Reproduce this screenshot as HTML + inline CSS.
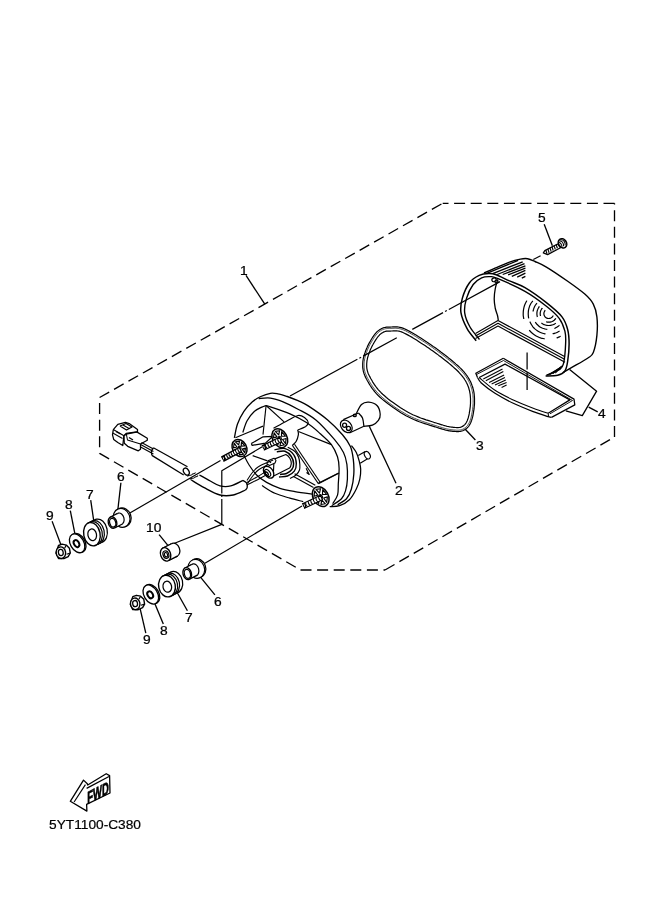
<!DOCTYPE html>
<html><head><meta charset="utf-8"><style>
html,body{margin:0;padding:0;background:#fff;width:661px;height:913px;overflow:hidden}
svg{display:block;will-change:transform}
text{font-family:"Liberation Sans",sans-serif;fill:#000}
</style></head><body>
<svg width="661" height="913" viewBox="0 0 661 913">
<g fill="none" stroke="#000" stroke-linecap="butt" stroke-linejoin="round">
<path d="M614.5,203.3 L442.7,203.3" stroke-width="1.32" stroke-dasharray="11 5.6" stroke-dashoffset="0"/>
<path d="M99.6,397.5 L442.7,203.3" stroke-width="1.32" stroke-dasharray="11 5.6" stroke-dashoffset="0"/>
<path d="M99.6,397.5 L99.6,453.4" stroke-width="1.32" stroke-dasharray="11 5.6" stroke-dashoffset="11"/>
<path d="M99.6,453.4 L300.5,570.0" stroke-width="1.32" stroke-dasharray="11 5.6" stroke-dashoffset="0"/>
<path d="M300.5,570.0 L385.0,570.0" stroke-width="1.32" stroke-dasharray="11 5.6" stroke-dashoffset="0"/>
<path d="M385.0,570.0 L614.5,437.0" stroke-width="1.32" stroke-dasharray="11 5.6" stroke-dashoffset="0"/>
<path d="M614.5,437.0 L614.5,203.3" stroke-width="1.32" stroke-dasharray="11 5.6" stroke-dashoffset="0"/>
<path d="M246.0,275.4 L264.8,304.2" stroke-width="1.32"/>
<path d="M544.2,224.2 L552.4,245.7" stroke-width="1.32"/>
<path d="M465.0,429.0 L475.4,440.0" stroke-width="1.32"/>
<path d="M52.1,521.3 L61.2,545.5" stroke-width="1.32"/>
<path d="M70.3,510.7 L75.1,534.9" stroke-width="1.32"/>
<path d="M90.7,500.1 L93.7,520.5" stroke-width="1.32"/>
<path d="M120.9,482.7 L117.9,509.2" stroke-width="1.32"/>
<path d="M159.1,534.6 L168.3,545.8" stroke-width="1.32"/>
<path d="M214.9,594.9 L200.7,577.4" stroke-width="1.32"/>
<path d="M187.4,610.7 L176.6,591.5" stroke-width="1.32"/>
<path d="M163.3,624.0 L155.0,604.0" stroke-width="1.32"/>
<path d="M145.8,633.1 L140.0,608.2" stroke-width="1.32"/>
<path d="M369.3,426.3 L396.0,483.2" stroke-width="1.32"/>
<path d="M588.7,407.1 L597.7,411.9" stroke-width="1.32"/>
<path d="M569.6,369.5 L596.6,391.2 L582.3,415.6 L565.9,410.8" stroke-width="1.32"/>
<path d="M390.3,327.1 L391.1,327.0 L391.9,327.0 L392.8,326.9 L393.8,326.9 L394.8,326.8 L396.0,326.8 L397.2,326.9 L398.4,327.0 L399.8,327.3 L401.3,327.6 L402.8,328.1 L404.4,328.8 L406.2,329.6 L408.0,330.5 L410.0,331.6 L412.1,332.7 L414.2,334.0 L416.4,335.3 L418.6,336.7 L420.8,338.1 L423.0,339.5 L425.2,340.9 L427.2,342.3 L429.3,343.7 L431.2,345.0 L433.2,346.4 L435.3,347.8 L437.3,349.3 L439.3,350.7 L441.2,352.2 L443.2,353.7 L445.0,355.1 L446.9,356.5 L448.6,357.9 L450.3,359.2 L451.8,360.5 L453.3,361.8 L454.7,362.9 L456.0,364.1 L457.3,365.2 L458.5,366.3 L459.6,367.4 L460.7,368.4 L461.8,369.5 L462.8,370.6 L463.8,371.7 L464.7,372.8 L465.6,373.9 L466.4,375.0 L467.3,376.2 L468.0,377.3 L468.7,378.4 L469.4,379.6 L470.0,380.7 L470.6,381.8 L471.1,383.0 L471.6,384.2 L472.0,385.4 L472.5,386.6 L472.8,387.8 L473.2,389.1 L473.5,390.4 L473.8,391.6 L474.0,392.9 L474.2,394.2 L474.3,395.6 L474.4,396.9 L474.5,398.2 L474.5,399.6 L474.5,400.9 L474.5,402.3 L474.5,403.7 L474.4,405.1 L474.2,406.7 L474.1,408.2 L473.9,409.8 L473.6,411.4 L473.4,413.0 L473.1,414.6 L472.8,416.2 L472.4,417.7 L472.0,419.1 L471.6,420.4 L471.2,421.6 L470.7,422.7 L470.2,423.7 L469.7,424.6 L469.2,425.5 L468.6,426.3 L467.9,427.1 L467.3,427.7 L466.6,428.4 L465.9,428.9 L465.2,429.4 L464.4,429.9 L463.6,430.3 L462.8,430.7 L461.9,431.0 L461.1,431.2 L460.2,431.4 L459.3,431.5 L458.4,431.6 L457.5,431.6 L456.6,431.6 L455.7,431.5 L454.7,431.4 L453.8,431.4 L452.8,431.3 L451.9,431.2 L451.0,431.1 L450.1,430.9 L449.1,430.8 L448.2,430.6 L447.2,430.4 L446.1,430.2 L445.0,429.9 L443.7,429.5 L442.3,429.1 L440.8,428.6 L439.0,428.1 L437.1,427.5 L435.0,426.8 L432.7,426.1 L430.2,425.4 L427.6,424.5 L424.8,423.6 L422.1,422.7 L419.3,421.7 L416.5,420.6 L413.8,419.5 L411.1,418.3 L408.6,417.0 L406.0,415.7 L403.5,414.2 L400.9,412.7 L398.3,411.0 L395.8,409.3 L393.2,407.6 L390.8,405.8 L388.4,404.1 L386.1,402.3 L383.9,400.6 L381.9,398.9 L380.0,397.2 L378.2,395.5 L376.6,393.8 L375.1,392.1 L373.8,390.5 L372.5,388.8 L371.3,387.1 L370.2,385.5 L369.2,383.9 L368.3,382.3 L367.4,380.8 L366.6,379.3 L365.9,377.9 L365.2,376.6 L364.7,375.3 L364.2,374.0 L363.8,372.8 L363.4,371.6 L363.2,370.5 L363.0,369.3 L362.8,368.2 L362.7,367.1 L362.7,365.9 L362.7,364.8 L362.7,363.6 L362.8,362.4 L362.9,361.1 L363.1,359.8 L363.3,358.5 L363.6,357.3 L364.0,356.0 L364.3,354.7 L364.7,353.5 L365.2,352.2 L365.6,351.0 L366.1,349.8 L366.6,348.6 L367.1,347.4 L367.6,346.1 L368.3,344.9 L368.9,343.6 L369.6,342.4 L370.3,341.2 L371.0,340.0 L371.7,338.8 L372.4,337.7 L373.1,336.7 L373.7,335.7 L374.4,334.8 L375.0,334.0 L375.6,333.3 L376.2,332.6 L376.8,332.0 L377.4,331.4 L378.0,330.9 L378.7,330.4 L379.3,330.0 L379.9,329.6 L380.5,329.2 L381.1,328.9 L381.8,328.5 L382.4,328.2 L383.1,328.0 L383.7,327.7 L384.4,327.5 L385.1,327.4 L385.7,327.3 L386.4,327.2 L387.1,327.1 L387.9,327.1 L388.6,327.1 L389.4,327.0 Z" stroke-width="1.21"/>
<path d="M390.3,328.5 L391.1,328.4 L392.0,328.4 L392.9,328.3 L393.9,328.3 L394.9,328.2 L395.9,328.2 L397.0,328.3 L398.2,328.4 L399.5,328.7 L400.9,329.0 L402.3,329.5 L403.9,330.1 L405.6,330.8 L407.4,331.8 L409.3,332.8 L411.4,334.0 L413.5,335.2 L415.6,336.5 L417.8,337.9 L420.0,339.3 L422.2,340.7 L424.4,342.1 L426.5,343.5 L428.5,344.8 L430.4,346.2 L432.4,347.5 L434.4,349.0 L436.4,350.4 L438.4,351.9 L440.4,353.3 L442.3,354.8 L444.2,356.2 L446.0,357.6 L447.7,359.0 L449.4,360.3 L450.9,361.6 L452.4,362.8 L453.8,364.0 L455.1,365.1 L456.3,366.2 L457.5,367.3 L458.7,368.4 L459.7,369.4 L460.8,370.5 L461.8,371.5 L462.7,372.6 L463.6,373.6 L464.5,374.7 L465.3,375.8 L466.1,376.9 L466.8,378.0 L467.5,379.1 L468.2,380.2 L468.7,381.3 L469.3,382.4 L469.8,383.6 L470.3,384.7 L470.7,385.9 L471.1,387.0 L471.5,388.2 L471.8,389.4 L472.1,390.7 L472.4,391.9 L472.6,393.1 L472.8,394.4 L472.9,395.7 L473.0,397.0 L473.1,398.3 L473.1,399.6 L473.1,400.9 L473.1,402.3 L473.1,403.6 L473.0,405.0 L472.9,406.5 L472.7,408.1 L472.5,409.6 L472.3,411.2 L472.0,412.8 L471.7,414.4 L471.4,415.9 L471.1,417.3 L470.7,418.7 L470.3,419.9 L469.9,421.1 L469.5,422.1 L469.0,423.0 L468.5,423.9 L468.0,424.7 L467.5,425.5 L466.9,426.1 L466.3,426.7 L465.7,427.3 L465.1,427.8 L464.4,428.3 L463.7,428.7 L463.0,429.1 L462.3,429.4 L461.5,429.7 L460.8,429.9 L460.0,430.0 L459.2,430.1 L458.3,430.2 L457.5,430.2 L456.6,430.2 L455.8,430.1 L454.9,430.0 L453.9,430.0 L453.0,429.9 L452.0,429.8 L451.1,429.7 L450.3,429.5 L449.4,429.4 L448.5,429.2 L447.5,429.0 L446.5,428.8 L445.3,428.5 L444.1,428.2 L442.7,427.8 L441.2,427.3 L439.5,426.8 L437.5,426.2 L435.4,425.5 L433.1,424.8 L430.6,424.0 L428.0,423.2 L425.3,422.3 L422.6,421.4 L419.8,420.4 L417.0,419.3 L414.3,418.2 L411.7,417.0 L409.2,415.8 L406.7,414.5 L404.2,413.0 L401.6,411.5 L399.1,409.9 L396.5,408.2 L394.0,406.5 L391.6,404.7 L389.2,403.0 L386.9,401.2 L384.8,399.5 L382.8,397.8 L380.9,396.2 L379.2,394.5 L377.7,392.9 L376.2,391.2 L374.9,389.6 L373.6,387.9 L372.5,386.3 L371.4,384.7 L370.4,383.1 L369.5,381.6 L368.7,380.1 L367.9,378.7 L367.2,377.3 L366.5,376.0 L366.0,374.7 L365.5,373.5 L365.1,372.4 L364.8,371.3 L364.5,370.2 L364.3,369.1 L364.2,368.1 L364.1,367.0 L364.1,365.9 L364.1,364.8 L364.1,363.7 L364.2,362.5 L364.3,361.3 L364.5,360.0 L364.7,358.8 L365.0,357.6 L365.3,356.4 L365.7,355.1 L366.1,353.9 L366.5,352.7 L366.9,351.5 L367.4,350.3 L367.8,349.1 L368.4,347.9 L368.9,346.7 L369.5,345.5 L370.1,344.3 L370.8,343.1 L371.5,341.9 L372.2,340.7 L372.9,339.6 L373.6,338.5 L374.2,337.5 L374.9,336.5 L375.5,335.7 L376.1,334.9 L376.7,334.2 L377.3,333.6 L377.8,333.0 L378.4,332.5 L378.9,332.0 L379.5,331.5 L380.1,331.1 L380.6,330.8 L381.2,330.4 L381.8,330.1 L382.4,329.8 L383.0,329.5 L383.6,329.3 L384.2,329.1 L384.8,328.9 L385.3,328.8 L385.9,328.6 L386.6,328.6 L387.2,328.5 L387.9,328.5 L388.6,328.5 L389.4,328.4 Z" stroke-width="0.69"/>
<path d="M390.3,331.1 L391.2,331.0 L392.1,331.0 L393.1,330.9 L394.0,330.9 L394.9,330.8 L395.9,330.8 L396.8,330.9 L397.9,331.0 L399.0,331.2 L400.2,331.5 L401.5,331.9 L402.9,332.5 L404.4,333.2 L406.2,334.1 L408.1,335.1 L410.1,336.2 L412.2,337.4 L414.3,338.7 L416.5,340.1 L418.6,341.5 L420.8,342.9 L422.9,344.3 L425.0,345.6 L427.0,347.0 L429.0,348.3 L430.9,349.7 L432.9,351.1 L434.9,352.5 L436.9,353.9 L438.8,355.4 L440.7,356.8 L442.6,358.3 L444.4,359.7 L446.1,361.0 L447.7,362.3 L449.3,363.6 L450.7,364.8 L452.1,366.0 L453.4,367.1 L454.6,368.2 L455.8,369.2 L456.9,370.3 L457.9,371.3 L458.9,372.3 L459.8,373.3 L460.7,374.3 L461.6,375.3 L462.4,376.3 L463.2,377.4 L464.0,378.4 L464.6,379.5 L465.3,380.5 L465.9,381.5 L466.4,382.5 L467.0,383.6 L467.4,384.6 L467.9,385.7 L468.3,386.7 L468.7,387.8 L469.0,389.0 L469.3,390.1 L469.6,391.2 L469.8,392.4 L470.0,393.5 L470.2,394.7 L470.3,395.9 L470.4,397.2 L470.5,398.4 L470.5,399.6 L470.5,400.9 L470.5,402.2 L470.5,403.5 L470.4,404.9 L470.3,406.3 L470.1,407.8 L469.9,409.3 L469.7,410.8 L469.4,412.4 L469.2,413.9 L468.9,415.3 L468.5,416.7 L468.2,418.0 L467.8,419.1 L467.5,420.1 L467.1,421.0 L466.7,421.8 L466.3,422.6 L465.9,423.2 L465.4,423.8 L465.0,424.4 L464.5,424.9 L464.0,425.3 L463.5,425.7 L463.0,426.1 L462.4,426.4 L461.8,426.7 L461.3,427.0 L460.8,427.2 L460.2,427.3 L459.6,427.5 L458.9,427.5 L458.2,427.6 L457.5,427.6 L456.7,427.6 L455.9,427.5 L455.1,427.5 L454.2,427.4 L453.2,427.3 L452.3,427.2 L451.5,427.1 L450.6,427.0 L449.8,426.8 L449.0,426.7 L448.1,426.5 L447.1,426.3 L446.0,426.0 L444.8,425.7 L443.5,425.3 L442.0,424.8 L440.3,424.3 L438.3,423.7 L436.2,423.0 L433.8,422.3 L431.4,421.5 L428.8,420.7 L426.1,419.9 L423.4,418.9 L420.7,418.0 L418.0,416.9 L415.4,415.8 L412.8,414.7 L410.4,413.5 L408.0,412.2 L405.5,410.8 L403.0,409.3 L400.5,407.7 L398.0,406.0 L395.5,404.3 L393.1,402.6 L390.8,400.9 L388.5,399.2 L386.4,397.5 L384.5,395.8 L382.7,394.2 L381.1,392.7 L379.6,391.1 L378.2,389.6 L376.9,388.0 L375.7,386.4 L374.6,384.8 L373.6,383.3 L372.6,381.8 L371.8,380.3 L370.9,378.8 L370.2,377.4 L369.5,376.1 L368.9,374.9 L368.3,373.7 L367.9,372.6 L367.6,371.6 L367.3,370.6 L367.1,369.7 L366.9,368.8 L366.8,367.8 L366.7,366.9 L366.7,365.9 L366.7,364.8 L366.7,363.8 L366.8,362.7 L366.9,361.6 L367.0,360.5 L367.3,359.4 L367.5,358.2 L367.8,357.0 L368.2,355.9 L368.5,354.7 L368.9,353.6 L369.4,352.4 L369.8,351.2 L370.2,350.1 L370.7,349.0 L371.3,347.8 L371.8,346.7 L372.4,345.5 L373.1,344.3 L373.7,343.2 L374.4,342.0 L375.1,340.9 L375.7,339.9 L376.4,338.9 L377.0,338.0 L377.6,337.2 L378.1,336.5 L378.7,335.9 L379.2,335.3 L379.6,334.8 L380.1,334.4 L380.6,334.0 L381.1,333.6 L381.5,333.3 L382.0,333.0 L382.5,332.7 L383.0,332.4 L383.5,332.1 L384.0,331.9 L384.5,331.7 L385.0,331.5 L385.4,331.4 L385.9,331.3 L386.3,331.2 L386.8,331.1 L387.4,331.1 L388.0,331.1 L388.7,331.1 L389.4,331.0 Z" stroke-width="1.21"/>
<path d="M484.0,273.0 C485.8,272.2 490.8,270.0 495.0,268.2 C499.2,266.4 505.3,263.6 509.5,262.1 C513.7,260.6 517.4,259.7 520.4,259.1 C523.4,258.5 525.2,258.3 527.6,258.7 C530.0,259.1 531.9,260.1 535.0,261.5 C538.1,262.9 540.9,263.8 546.4,267.1 C551.9,270.4 561.3,276.8 567.7,281.3 C574.1,285.8 580.5,290.3 584.8,294.1 C589.1,297.9 591.3,300.3 593.3,304.1 C595.3,307.9 596.3,311.7 596.9,316.9 C597.5,322.1 597.5,329.5 596.9,335.4 C596.3,341.3 594.8,348.7 593.3,352.5 C591.8,356.3 591.4,355.6 587.6,358.2 C583.8,360.8 574.6,365.8 570.6,368.2 C566.6,370.6 564.6,371.7 563.4,372.4" stroke-width="1.38"/>
<path d="M476.2,340.8 C474.7,338.8 469.6,333.4 467.1,328.7 C464.6,324.0 461.8,317.9 461.0,312.9 C460.2,307.8 460.9,303.4 462.3,298.4 C463.7,293.4 466.7,286.5 469.5,282.7 C472.3,278.9 476.0,276.9 479.2,275.4 C482.4,273.9 486.1,273.7 488.9,273.6 C491.7,273.5 492.8,273.6 496.2,274.8 C499.6,276.0 504.7,278.8 509.5,280.9 C514.3,283.0 518.9,284.1 525.0,287.7 C531.1,291.3 540.2,297.8 546.4,302.7 C552.6,307.6 558.5,312.4 562.0,316.9 C565.5,321.4 566.5,325.2 567.7,329.7 C568.9,334.2 569.1,338.8 569.1,344.0 C569.1,349.2 568.4,356.5 567.7,361.0 C567.0,365.5 566.6,368.6 564.9,371.0 C563.2,373.4 560.9,374.5 557.7,375.3 C554.5,376.1 547.6,375.9 545.6,376.0" stroke-width="1.49"/>
<path d="M479.5,339.5 C477.9,337.4 472.5,331.4 470.0,327.0 C467.5,322.6 465.3,317.7 464.7,312.9 C464.1,308.1 465.1,303.1 466.5,298.4 C467.9,293.7 470.7,287.9 473.2,284.5 C475.7,281.1 478.8,279.1 481.6,277.8 C484.4,276.5 487.5,276.5 490.1,276.6 C492.7,276.7 491.6,275.9 497.4,278.4 C503.2,280.8 516.8,286.7 525.0,291.3 C533.2,295.9 540.7,301.7 546.4,306.2 C552.1,310.7 556.1,314.1 559.2,318.3 C562.3,322.5 563.8,326.9 564.9,331.2 C566.0,335.5 565.9,338.6 565.6,344.0 C565.4,349.4 564.5,359.6 563.4,363.9 C562.3,368.2 562.0,367.7 559.2,369.6 C556.4,371.5 548.5,374.4 546.4,375.3" stroke-width="1.38"/>
<path d="M497.6,279.5 C497.2,281.1 495.8,285.8 495.2,289.0 C494.6,292.2 494.2,295.8 494.2,299.0 C494.2,302.2 494.8,305.8 495.3,308.5 C495.9,311.2 497.0,313.5 497.5,315.5 C498.0,317.5 498.2,319.6 498.3,320.4" stroke-width="1.32"/>
<path d="M475.5,333.5 L498.0,320.5 L565.0,356.7" stroke-width="1.15"/>
<path d="M475.5,336.0 L498.0,323.3 L565.0,359.5" stroke-width="1.15"/>
<path d="M475.5,338.5 L498.0,326.1 L565.0,362.3" stroke-width="1.15"/>
<path d="M487.3,273.2 L518.1,260.4" stroke-width="1.32"/>
<path d="M492.7,273.6 L522.7,261.8" stroke-width="1.32"/>
<path d="M497.2,274.5 L524.5,263.6" stroke-width="1.32"/>
<path d="M502.7,274.5 L525.4,265.9" stroke-width="1.32"/>
<path d="M508.1,274.8 L525.4,268.2" stroke-width="1.32"/>
<path d="M511.8,276.3 L525.4,270.4" stroke-width="1.32"/>
<path d="M517.2,277.2 L525.4,273.2" stroke-width="1.32"/>
<path d="M521.8,278.1 L525.4,276.3" stroke-width="1.32"/>
<ellipse cx="494.0" cy="279.8" rx="2.2" ry="1.8" transform="rotate(-20.0 494.0 279.8)" stroke-width="1.15" fill="none"/>
<ellipse cx="496.5" cy="281.5" rx="1.6" ry="1.4" transform="rotate(-20.0 496.5 281.5)" stroke-width="1.15" fill="none"/>
<path d="M553.1,315.6 C553.1,315.7 552.9,316.0 552.8,316.2 C552.7,316.4 552.6,316.6 552.4,316.7 C552.3,316.9 552.1,317.1 552.0,317.2 C551.8,317.4 551.6,317.5 551.4,317.6 C551.2,317.8 551.1,317.9 550.8,318.0 C550.6,318.1 550.4,318.2 550.2,318.3 C550.0,318.3 549.8,318.4 549.6,318.4 C549.3,318.5 549.1,318.5 548.9,318.5 C548.7,318.5 548.4,318.5 548.2,318.5 C548.0,318.5 547.8,318.4 547.6,318.4 C547.3,318.3 547.1,318.2 546.9,318.2 C546.7,318.1 546.5,318.0 546.3,317.9 C546.1,317.7 545.9,317.6 545.7,317.5 C545.6,317.3 545.4,317.2 545.2,317.0 C545.1,316.9 544.9,316.7 544.8,316.5 C544.7,316.3 544.6,316.1 544.5,315.9 C544.3,315.7 544.3,315.5 544.2,315.3 C544.1,315.1 544.0,314.9 544.0,314.7 C544.0,314.4 543.9,314.2 543.9,314.0 C543.9,313.8 543.9,313.5 543.9,313.3 C543.9,313.1 544.0,312.9 544.0,312.6 C544.1,312.4 544.1,312.2 544.2,312.0 C544.3,311.8 544.4,311.6 544.5,311.4 C544.6,311.2 544.7,311.0 544.9,310.8 C545.0,310.6 545.2,310.4 545.3,310.3" stroke-width="1.21"/>
<path d="M540.5,316.0 C540.5,315.8 540.3,315.2 540.3,314.8 C540.2,314.4 540.2,314.0 540.2,313.6 C540.2,313.2 540.2,312.8 540.3,312.4 C540.4,312.0 540.5,311.6 540.6,311.2 C540.7,310.8 540.8,310.4 541.0,310.1 C541.2,309.7 541.4,309.3 541.6,309.0 C541.9,308.6 542.3,308.2 542.4,308.0" stroke-width="1.21"/>
<path d="M555.8,318.3 C555.7,318.5 555.4,319.0 555.1,319.3 C554.8,319.6 554.5,319.9 554.2,320.2 C553.9,320.4 553.6,320.7 553.2,320.9 C552.9,321.1 552.5,321.3 552.1,321.5 C551.7,321.6 551.3,321.8 550.9,321.9 C550.6,322.0 550.1,322.1 549.7,322.1 C549.3,322.2 548.9,322.2 548.5,322.2 C548.1,322.2 547.7,322.1 547.3,322.1 C546.9,322.0 546.3,321.8 546.1,321.8" stroke-width="1.21"/>
<path d="M537.4,317.0 C537.3,316.7 537.1,315.7 537.0,315.1 C536.9,314.5 536.9,313.9 536.9,313.3 C536.9,312.7 537.0,312.1 537.1,311.4 C537.2,310.8 537.4,310.2 537.6,309.7 C537.8,309.1 538.1,308.5 538.4,308.0 C538.7,307.4 539.2,306.7 539.4,306.4" stroke-width="1.21"/>
<path d="M555.8,323.1 C555.6,323.3 554.9,323.8 554.4,324.1 C553.9,324.3 553.3,324.6 552.8,324.8 C552.3,325.0 551.7,325.1 551.2,325.2 C550.6,325.4 550.0,325.4 549.5,325.5 C548.9,325.5 548.3,325.5 547.7,325.5 C547.2,325.4 546.6,325.3 546.0,325.2 C545.5,325.1 544.9,324.9 544.4,324.7 C543.9,324.5 543.4,324.2 542.9,324.0 C542.4,323.7 541.7,323.2 541.4,323.0" stroke-width="1.21"/>
<path d="M533.1,311.5 C533.1,311.1 533.3,310.0 533.6,309.2 C533.8,308.5 534.1,307.7 534.4,307.0 C534.7,306.3 535.1,305.6 535.5,305.0 C536.0,304.3 536.7,303.4 537.0,303.1" stroke-width="1.21"/>
<path d="M547.3,329.4 C546.9,329.4 545.7,329.2 544.9,329.0 C544.1,328.8 543.4,328.6 542.6,328.3 C541.9,328.0 541.1,327.6 540.4,327.2 C539.8,326.7 539.1,326.3 538.5,325.7 C537.9,325.2 537.3,324.6 536.7,324.0 C536.2,323.4 535.5,322.4 535.3,322.1" stroke-width="1.21"/>
<path d="M559.5,325.3 C559.3,325.4 558.7,325.9 558.3,326.2 C557.9,326.5 557.5,326.8 557.1,327.1 C556.6,327.4 556.2,327.6 555.7,327.8 C555.3,328.1 554.6,328.3 554.4,328.5" stroke-width="1.21"/>
<path d="M528.7,318.3 C528.6,317.8 528.3,316.3 528.3,315.2 C528.2,314.2 528.2,313.2 528.3,312.2 C528.3,311.1 528.5,310.1 528.7,309.1 C529.0,308.1 529.3,307.1 529.6,306.1 C530.0,305.2 530.5,304.2 531.0,303.3 C531.5,302.5 532.5,301.2 532.8,300.8" stroke-width="1.21"/>
<path d="M545.5,333.9 C545.0,333.8 543.5,333.6 542.6,333.3 C541.7,333.0 540.7,332.6 539.9,332.2 C539.0,331.8 538.1,331.3 537.3,330.7 C536.5,330.2 535.7,329.6 534.9,328.9 C534.2,328.2 533.5,327.5 532.9,326.8 C532.3,326.0 531.7,325.2 531.2,324.3 C530.7,323.5 530.1,322.1 529.8,321.7" stroke-width="1.21"/>
<path d="M559.6,331.1 C559.3,331.2 558.5,331.7 557.9,332.0 C557.4,332.3 556.8,332.5 556.2,332.8 C555.6,333.0 555.0,333.2 554.4,333.4 C553.8,333.6 552.9,333.7 552.6,333.8" stroke-width="1.21"/>
<path d="M523.8,319.0 C523.7,318.4 523.3,316.5 523.2,315.2 C523.2,313.9 523.2,312.7 523.3,311.4 C523.4,310.1 523.6,308.9 523.9,307.6 C524.2,306.4 524.6,305.2 525.1,304.0 C525.6,302.8 526.6,301.1 526.8,300.6" stroke-width="1.21"/>
<path d="M544.7,338.9 C544.1,338.7 542.3,338.4 541.2,338.1 C540.0,337.7 538.9,337.3 537.8,336.7 C536.7,336.2 535.6,335.6 534.6,334.9 C533.6,334.3 532.6,333.5 531.7,332.7 C530.8,331.9 529.6,330.5 529.2,330.1" stroke-width="1.21"/>
<path d="M560.7,336.2 C560.5,336.3 560.0,336.6 559.7,336.7 C559.3,336.9 559.0,337.0 558.7,337.2 C558.3,337.3 558.0,337.5 557.6,337.6 C557.3,337.7 556.8,337.9 556.6,338.0" stroke-width="1.21"/>
<path d="M547.5,375.2 L559.0,368.5" stroke-width="1.03"/>
<path d="M550.1,374.5 L560.0,367.6" stroke-width="1.03"/>
<path d="M552.7,373.8 L561.0,366.7" stroke-width="1.03"/>
<path d="M555.3,373.1 L562.0,365.8" stroke-width="1.03"/>
<path d="M503.3,358.3 L574.0,399.1 L574.8,404.9 L551.5,417.4" stroke-width="1.26"/>
<path d="M477.5,377.5 C478.2,378.5 478.7,380.7 481.6,383.3 C484.5,385.9 489.7,390.0 495.0,393.3 C500.3,396.6 506.9,400.2 513.3,403.3 C519.7,406.4 527.4,409.4 533.2,411.6 C539.0,413.8 545.2,415.6 548.2,416.6 C551.2,417.6 551.0,417.3 551.5,417.4" stroke-width="1.26"/>
<path d="M503.3,358.3 L475.8,373.3 L477.5,377.5" stroke-width="1.26"/>
<path d="M479.2,377.5 L505.0,364.1 L569.9,399.9 L548.2,413.2" stroke-width="1.26"/>
<path d="M476.5,374.5 L503.5,360.5 L572.5,400.5 L550.0,413.8" stroke-width="0.92"/>
<path d="M479.2,377.5 C481.8,379.6 489.3,386.6 495.0,390.3 C500.7,394.1 506.9,397.0 513.3,400.0 C519.7,403.0 527.4,406.0 533.2,408.2 C539.0,410.4 545.7,412.4 548.2,413.2" stroke-width="1.03"/>
<path d="M548.2,413.2 L548.5,416.6" stroke-width="1.03"/>
<path d="M483.3,379.1 L502.5,369.1" stroke-width="1.09"/>
<path d="M485.8,380.8 L503.3,371.6" stroke-width="1.09"/>
<path d="M489.1,382.5 L504.1,375.0" stroke-width="1.09"/>
<path d="M491.6,384.1 L504.9,377.5" stroke-width="1.09"/>
<path d="M495.0,385.0 L505.8,380.0" stroke-width="1.09"/>
<path d="M498.3,385.8 L506.6,382.5" stroke-width="1.09"/>
<path d="M501.6,387.4 L506.6,385.0" stroke-width="1.09"/>
<path d="M527.1,352.5 L527.1,369.5" stroke-width="1.26"/>
<path d="M527.1,372.5 L527.1,390.0" stroke-width="1.26"/>
<path d="M543.3,252.9 L544.8,250.6 L557.6,244.0 L560.5,247.8 L547.6,254.6 Z" stroke-width="1.2" fill="#fff"/>
<path d="M545.7,250.0 L547.0,253.8" stroke-width="1.15"/>
<path d="M547.8,248.9 L549.1,252.7" stroke-width="1.15"/>
<path d="M549.9,247.8 L551.2,251.6" stroke-width="1.15"/>
<path d="M552.0,246.7 L553.2,250.5" stroke-width="1.15"/>
<path d="M554.0,245.6 L555.3,249.4" stroke-width="1.15"/>
<path d="M556.1,244.5 L557.4,248.3" stroke-width="1.15"/>
<ellipse cx="562.5" cy="243.3" rx="3.9" ry="4.9" transform="rotate(-35.0 562.5 243.3)" stroke-width="1.61" fill="#fff"/>
<path d="M560.2,239.9 C563.5,239 565.5,242 565.2,245.5" stroke-width="1.03"/>
<path d="M559.2,241 C562,240.5 563.8,243 563.6,246.3" stroke-width="1.03"/>
<path d="M558.5,242.6 C560.5,242.5 562,244.5 562,247.2" stroke-width="1.03"/>
<path d="M540.6,255.7 L533.3,259.5" stroke-width="1.15"/>
<path d="M356.0,414.2 C356.9,412.6 359.4,406.5 361.5,404.5 C363.6,402.5 366.1,401.9 368.7,402.1 C371.3,402.3 375.3,403.7 377.2,405.7 C379.1,407.7 380.0,411.8 380.2,414.2 C380.4,416.6 379.7,418.5 378.4,420.3 C377.1,422.1 374.8,424.1 372.4,425.1 C370.0,426.1 365.3,426.1 363.9,426.3" stroke-width="1.26"/>
<path d="M343.3,419.7 L358.4,413.0" stroke-width="1.26"/>
<path d="M349.4,433.0 L363.9,426.3" stroke-width="1.26"/>
<path d="M358.4,413.0 C359.1,413.8 361.6,415.8 362.5,418.0 C363.4,420.2 363.7,424.9 363.9,426.3" stroke-width="1.26"/>
<ellipse cx="346.3" cy="426.3" rx="5.0" ry="7.0" transform="rotate(-40.0 346.3 426.3)" stroke-width="1.26" fill="none"/>
<ellipse cx="344.6" cy="425.3" rx="2.0" ry="2.1" transform="rotate(0.0 344.6 425.3)" stroke-width="1.32" fill="none"/>
<ellipse cx="348.5" cy="428.4" rx="2.0" ry="2.1" transform="rotate(0.0 348.5 428.4)" stroke-width="1.32" fill="none"/>
<ellipse cx="354.8" cy="415.4" rx="1.4" ry="1.2" transform="rotate(0.0 354.8 415.4)" stroke-width="1.38" fill="none"/>
<path d="M290.0,396.0 L396.8,337.8" stroke-width="1.21" stroke-dasharray="91 2.3 2 2.3" stroke-dashoffset="14.3"/>
<path d="M412.3,329.4 L500.0,281.6" stroke-width="1.21" stroke-dasharray="91 2.3 2 2.3" stroke-dashoffset="153.6"/>
<path d="M129.0,513.4 L220.5,460.4" stroke-width="1.21"/>
<path d="M168.3,545.8 L221.8,524.4 L221.8,470.7 L262.2,446.8" stroke-width="1.21" stroke-dasharray="83 2 1.5 2 200 0"/>
<path d="M204.9,563.3 L302.0,506.0" stroke-width="1.21"/>
<path d="M318.2,483.3 L338.2,473.3" stroke-width="1.15"/>
<path d="M234.4,437.8 C234.9,435.5 235.9,428.4 237.5,424.0 C239.1,419.6 241.4,415.0 243.9,411.3 C246.4,407.6 249.6,404.3 252.4,401.8 C255.2,399.3 257.8,397.9 260.8,396.5 C263.8,395.1 267.6,393.8 270.4,393.3 C273.2,392.9 275.0,393.3 277.8,393.8 C280.6,394.3 283.9,395.4 287.3,396.5 C290.7,397.6 294.5,399.1 298.0,400.7 C301.5,402.3 303.2,402.7 308.2,405.9 C313.1,409.1 322.0,415.2 327.7,420.0 C333.4,424.8 338.7,430.4 342.5,434.8 C346.3,439.2 348.6,442.5 350.4,446.6 C352.2,450.7 352.7,454.8 353.3,459.4 C353.9,464.0 354.1,469.3 353.8,474.2 C353.5,479.1 352.6,484.9 351.4,489.0 C350.2,493.1 348.8,496.2 346.5,498.8 C344.2,501.4 339.1,503.7 337.6,504.7" stroke-width="1.32"/>
<path d="M258.7,398.6 C260.6,398.5 266.3,397.6 270.4,398.1 C274.5,398.6 278.5,400.0 283.1,401.8 C287.7,403.6 292.5,406.2 298.0,409.2 C303.5,412.2 309.8,414.9 315.9,420.0 C322.0,425.1 330.0,434.3 334.6,439.7 C339.2,445.1 341.4,448.4 343.5,452.5 C345.6,456.6 346.2,459.9 346.9,464.3 C347.5,468.7 347.6,474.7 347.4,479.1 C347.2,483.5 346.5,487.6 345.5,490.9 C344.5,494.2 343.8,496.3 341.5,498.8 C339.2,501.3 333.3,504.6 331.7,505.7" stroke-width="1.26"/>
<path d="M242.8,432.5 C243.5,430.6 245.2,424.3 247.1,420.8 C249.0,417.3 252.0,413.6 254.5,411.3 C257.0,409.0 260.0,408.1 261.9,407.1 C263.8,406.1 265.4,405.8 266.1,405.5" stroke-width="1.26"/>
<path d="M266.1,405.5 C270.1,406.9 283.2,410.9 290.0,413.8 C296.8,416.7 301.8,419.5 306.9,422.8 C311.9,426.1 316.2,430.1 320.3,433.7 C324.4,437.3 328.5,440.8 331.4,444.6 C334.3,448.5 336.2,452.9 337.5,456.8 C338.8,460.8 339.0,463.8 339.1,468.3 C339.2,472.8 338.6,479.3 338.3,483.7 C338.1,488.1 338.5,491.6 337.6,494.9 C336.7,498.2 333.5,502.2 332.7,503.7" stroke-width="1.26"/>
<path d="M351.4,445.6 C352.2,446.8 355.0,449.9 356.3,452.5 C357.6,455.1 358.6,458.6 359.3,461.4 C360.0,464.2 360.6,466.4 360.7,469.3 C360.8,472.2 360.5,475.8 359.8,479.1 C359.1,482.4 358.0,485.6 356.3,489.0 C354.6,492.4 352.2,497.0 349.4,499.8 C346.6,502.6 342.9,504.6 339.6,505.7 C336.3,506.8 331.4,506.5 329.7,506.7" stroke-width="1.26"/>
<path d="M266.1,405.5 L263.0,434.6" stroke-width="1.15"/>
<path d="M266.1,405.5 L284.1,421.9" stroke-width="1.15"/>
<path d="M235.4,437.8 L263.0,426.1" stroke-width="1.15"/>
<path d="M298.4,431.5 L331.4,444.6" stroke-width="1.15"/>
<path d="M318.4,483.7 L339.1,473.0" stroke-width="1.15"/>
<path d="M292.3,445.3 L318.4,483.7" stroke-width="1.15"/>
<path d="M294.5,444.3 L320.3,482.5" stroke-width="1.15"/>
<path d="M294.6,473.7 L315.3,485.2" stroke-width="1.15"/>
<path d="M293.5,476.5 L313.5,487.5" stroke-width="1.15"/>
<path d="M306.1,468.3 L309.2,474.5 L306.5,472.5" stroke-width="1.15"/>
<path d="M252.7,455.6 L267.5,460.9" stroke-width="1.15"/>
<path d="M244.1,455.8 C244.9,457.3 247.0,461.8 249.1,465.0 C251.2,468.2 253.7,472.1 256.6,475.0 C259.5,477.9 262.7,480.2 266.6,482.4 C270.5,484.6 275.2,486.8 279.9,488.3 C284.6,489.8 289.3,490.6 294.9,491.6 C300.4,492.6 310.1,493.7 313.2,494.1" stroke-width="1.21"/>
<path d="M262.0,485.5 C264.1,486.8 270.2,491.2 274.9,493.3 C279.5,495.4 285.2,496.8 289.9,498.2 C294.6,499.6 301.0,501.0 303.2,501.6" stroke-width="1.21"/>
<path d="M251.3,443.6 L263.1,436.8 L273.0,436.3 L265.4,443.1 L252.2,445.4 L251.3,443.6" stroke-width="1.21"/>
<path d="M273.5,428.2 C275.6,427.1 281.9,423.6 286.0,421.5 C290.1,419.4 294.8,416.1 298.0,415.5 C301.2,414.9 303.3,416.8 305.0,418.0 C306.7,419.2 308.1,421.4 308.2,422.8 C308.3,424.2 307.4,425.3 305.7,426.5 C303.9,427.7 299.0,429.4 297.7,430.0" stroke-width="1.21"/>
<path d="M297.7,430.0 C297.8,430.8 298.7,432.7 298.4,434.6 C298.1,436.5 297.1,439.7 296.1,441.5 C295.1,443.3 292.9,444.7 292.3,445.3" stroke-width="1.21"/>
<path d="M358.3,455.5 L365.2,451.5" stroke-width="1.15"/>
<path d="M360.2,463.3 L368.0,458.5" stroke-width="1.15"/>
<ellipse cx="367.3" cy="455.2" rx="2.6" ry="4.0" transform="rotate(-30.0 367.3 455.2)" stroke-width="1.15" fill="#fff"/>
<ellipse cx="239.5" cy="448.0" rx="9.0" ry="7.0" transform="rotate(61.0 239.5 448.0)" stroke-width="1.49" fill="#fff"/>
<path d="M240.4,451.1 L243.6,454.1 L239.4,454.9 Z" stroke-width="1.15"/>
<path d="M237.8,449.9 L237.5,454.0 L234.1,450.1 Z" stroke-width="1.15"/>
<path d="M236.8,446.9 L233.5,447.9 L234.2,443.2 Z" stroke-width="1.15"/>
<path d="M238.6,444.9 L235.4,441.9 L239.6,441.1 Z" stroke-width="1.15"/>
<path d="M241.2,446.1 L241.5,442.0 L244.9,445.9 Z" stroke-width="1.15"/>
<path d="M242.2,449.1 L245.5,448.1 L244.8,452.8 Z" stroke-width="1.15"/>
<ellipse cx="239.5" cy="448.0" rx="1.8" ry="1.4" transform="rotate(61.0 239.5 448.0)" stroke-width="1.15" fill="none"/>
<path d="M239.3,447.4 L221.6,456.9 A1.9,2.4 0 0 1 223.8,461.1 L241.5,451.6 Z" stroke-width="1.2" fill="#fff"/>
<path d="M237.5,448.3 Q237.7,451.0 239.8,452.6" stroke-width="1.09"/>
<path d="M235.3,449.5 Q235.4,452.2 237.6,453.8" stroke-width="1.09"/>
<path d="M233.1,450.7 Q233.2,453.3 235.3,454.9" stroke-width="1.09"/>
<path d="M230.9,451.9 Q231.0,454.5 233.1,456.1" stroke-width="1.09"/>
<path d="M228.6,453.1 Q228.8,455.7 230.9,457.3" stroke-width="1.09"/>
<path d="M226.4,454.3 Q226.6,456.9 228.7,458.5" stroke-width="1.09"/>
<path d="M224.2,455.5 Q224.4,458.1 226.5,459.7" stroke-width="1.09"/>
<path d="M222.0,456.6 Q222.2,459.3 224.3,460.9" stroke-width="1.09"/>
<ellipse cx="279.8" cy="438.2" rx="10.0" ry="7.2" transform="rotate(61.0 279.8 438.2)" stroke-width="1.49" fill="#fff"/>
<path d="M280.9,441.6 L284.3,445.0 L280.0,445.7 Z" stroke-width="1.15"/>
<path d="M278.1,440.2 L278.0,444.7 L274.2,440.3 Z" stroke-width="1.15"/>
<path d="M277.0,436.9 L273.5,437.9 L274.1,432.8 Z" stroke-width="1.15"/>
<path d="M278.7,434.8 L275.3,431.4 L279.6,430.7 Z" stroke-width="1.15"/>
<path d="M281.5,436.2 L281.6,431.7 L285.4,436.1 Z" stroke-width="1.15"/>
<path d="M282.6,439.5 L286.1,438.5 L285.5,443.6 Z" stroke-width="1.15"/>
<ellipse cx="279.8" cy="438.2" rx="2.0" ry="1.4" transform="rotate(61.0 279.8 438.2)" stroke-width="1.15" fill="none"/>
<path d="M279.5,437.3 L262.3,445.6 A1.9,2.4 0 0 1 264.3,450.0 L281.5,441.7 Z" stroke-width="1.2" fill="#fff"/>
<path d="M277.5,438.3 Q277.5,440.9 279.5,442.6" stroke-width="1.09"/>
<path d="M275.0,439.5 Q275.0,442.1 277.1,443.8" stroke-width="1.09"/>
<path d="M272.5,440.7 Q272.6,443.3 274.6,445.0" stroke-width="1.09"/>
<path d="M270.1,441.9 Q270.1,444.5 272.2,446.2" stroke-width="1.09"/>
<path d="M267.6,443.0 Q267.7,445.7 269.7,447.4" stroke-width="1.09"/>
<path d="M265.2,444.2 Q265.2,446.9 267.3,448.6" stroke-width="1.09"/>
<path d="M262.7,445.4 Q262.8,448.1 264.8,449.7" stroke-width="1.09"/>
<ellipse cx="320.7" cy="496.6" rx="10.5" ry="7.6" transform="rotate(61.0 320.7 496.6)" stroke-width="1.49" fill="#fff"/>
<path d="M321.9,500.1 L325.4,503.8 L320.9,504.5 Z" stroke-width="1.15"/>
<path d="M318.9,498.7 L318.7,503.5 L314.8,498.8 Z" stroke-width="1.15"/>
<path d="M317.7,495.2 L314.0,496.3 L314.7,490.9 Z" stroke-width="1.15"/>
<path d="M319.5,493.1 L316.0,489.4 L320.5,488.7 Z" stroke-width="1.15"/>
<path d="M322.5,494.5 L322.7,489.7 L326.6,494.4 Z" stroke-width="1.15"/>
<path d="M323.7,498.0 L327.4,496.9 L326.7,502.3 Z" stroke-width="1.15"/>
<ellipse cx="320.7" cy="496.6" rx="2.1" ry="1.5" transform="rotate(61.0 320.7 496.6)" stroke-width="1.15" fill="none"/>
<path d="M320.5,495.3 L302.5,503.8 A1.9,2.4 0 0 1 304.5,508.2 L322.5,499.7 Z" stroke-width="1.2" fill="#fff"/>
<path d="M318.4,496.3 Q318.4,499.0 320.4,500.7" stroke-width="1.09"/>
<path d="M315.8,497.5 Q315.8,500.2 317.8,501.9" stroke-width="1.09"/>
<path d="M313.2,498.8 Q313.2,501.4 315.3,503.1" stroke-width="1.09"/>
<path d="M310.6,500.0 Q310.7,502.6 312.7,504.3" stroke-width="1.09"/>
<path d="M308.1,501.2 Q308.1,503.8 310.1,505.5" stroke-width="1.09"/>
<path d="M305.5,502.4 Q305.5,505.0 307.5,506.7" stroke-width="1.09"/>
<path d="M302.9,503.6 Q303.0,506.3 305.0,508.0" stroke-width="1.09"/>
<path d="M276.8,451.8 C278.2,451.7 282.6,450.4 285.0,451.2 C287.4,452.0 289.9,454.4 291.3,456.5 C292.7,458.6 293.5,461.4 293.6,463.6 C293.7,465.8 293.0,467.9 291.8,469.5 C290.6,471.1 288.5,472.7 286.5,473.5 C284.5,474.3 281.1,474.3 280.0,474.5" stroke-width="1.49"/>
<path d="M274.5,449.8 C276.2,449.6 281.8,447.8 285.0,448.6 C288.2,449.4 291.9,452.3 293.8,454.8 C295.7,457.3 296.2,460.9 296.3,463.6 C296.4,466.3 295.8,469.1 294.3,471.2 C292.8,473.3 290.1,475.0 287.5,476.0 C284.9,477.0 280.4,476.8 279.0,477.0" stroke-width="1.38"/>
<path d="M287.7,447.3 C288.9,448.0 293.2,449.9 295.0,451.5 C296.8,453.1 297.8,455.1 298.6,457.2 C299.4,459.3 299.7,461.9 299.8,464.0 C299.9,466.1 300.1,468.2 299.5,470.0 C298.9,471.8 297.6,473.6 296.0,475.0 C294.4,476.4 291.0,477.9 290.0,478.5" stroke-width="1.15"/>
<path d="M274.1,459.1 L285.9,454.5 C289,456 291.5,460 291.3,463.6 C291,466 290.5,467 289.5,468.1 L273.2,476.3 Z" stroke-width="1.15" fill="#fff"/>
<ellipse cx="268.6" cy="472.2" rx="4.4" ry="6.6" transform="rotate(-35.0 268.6 472.2)" stroke-width="1.32" fill="#fff"/>
<ellipse cx="267.6" cy="473.0" rx="2.4" ry="4.0" transform="rotate(-35.0 267.6 473.0)" stroke-width="1.15" fill="none"/>
<ellipse cx="266.8" cy="473.8" rx="1.2" ry="2.0" transform="rotate(-35.0 266.8 473.8)" stroke-width="1.49" fill="none"/>
<path d="M266.8,463.8 L268.5,460.5 L274,458.2 L276,460.5 L275,463 L269.5,465.5 Z" stroke-width="1.05" fill="#fff"/>
<path d="M268.5,460.5 L271.0,462.8" stroke-width="1.03"/>
<path d="M247.0,482.5 C248.5,481.7 252.8,479.3 256.0,477.5 C259.2,475.7 264.3,472.5 266.0,471.5" stroke-width="1.03"/>
<path d="M246.8,485.0 C248.3,484.2 252.6,482.2 256.0,480.5 C259.4,478.8 265.2,475.5 267.0,474.5" stroke-width="1.03"/>
<path d="M247.0,480.5 C247.8,479.2 250.2,475.2 252.0,473.0 C253.8,470.8 255.2,468.9 257.7,467.2 C260.2,465.5 264.2,463.9 266.8,462.7 C269.4,461.5 272.1,460.4 273.2,460.0" stroke-width="1.03"/>
<path d="M247.5,483.5 C248.5,482.1 251.6,477.3 253.5,475.0 C255.4,472.7 256.6,471.2 259.0,469.5 C261.4,467.8 266.5,465.3 268.0,464.5" stroke-width="1.03"/>
<path d="M199.4,475.0 C201.2,476.0 206.9,479.2 210.3,481.0 C213.7,482.8 216.6,485.1 220.0,485.9 C223.4,486.7 227.0,486.8 230.8,485.9 C234.6,485.0 240.9,481.3 242.9,480.4" stroke-width="1.32"/>
<path d="M190.9,479.8 C193.1,481.1 199.3,485.2 204.2,487.7 C209.0,490.2 215.2,493.8 220.0,495.0 C224.8,496.2 229.1,495.8 233.3,495.0 C237.5,494.2 243.4,490.9 245.4,490.1" stroke-width="1.32"/>
<path d="M242.9,480.4 C243.5,480.8 245.8,481.6 246.5,482.8 C247.2,484.0 247.4,486.3 247.2,487.5 C247.0,488.7 245.7,489.7 245.4,490.1" stroke-width="1.32"/>
<path d="M187.5,476.5 C189,474 190.5,476.5 192,474.5 C193,473 194.5,474.5 195.5,472.5" stroke-width="1.03"/>
<path d="M190,479.5 C191.5,477 193,479.5 194.5,477.5 C195.5,476 197,477.5 198,475.5" stroke-width="1.03"/>
<path d="M113.3,429.6 L117.8,424.3 L125.4,422.4 L129.2,423.6 L137.5,429.6 L137.5,431.9 L126.2,434.2 L123.9,435.7 L122.8,445.5 L117.8,442.5 L113.7,439.4 L112.5,434.9 L113.3,429.6" stroke-width="1.26"/>
<path d="M113.3,429.6 L123.9,435.7" stroke-width="1.15"/>
<path d="M112.8,433.0 L122.5,438.5" stroke-width="1.03"/>
<path d="M116.0,431.5 L120.5,434.0" stroke-width="1.38"/>
<path d="M120.0,426.0 L126.0,423.5 L132.0,427.0 L126.5,430.0 L120.0,426.0" stroke-width="1.26"/>
<path d="M123.0,425.0 L129.5,428.8" stroke-width="1.03"/>
<path d="M123.9,435.7 L126.2,433.4 L136.7,431.9 L147.3,438.3 L147.3,440.2 L140.5,444.0 L140.5,449.3 L138.3,450.8 L127.7,446.3 L124.3,443.2 L123.9,435.7" stroke-width="1.26"/>
<path d="M126.2,433.4 L127.5,440.0 L140.5,444.0" stroke-width="1.03"/>
<path d="M129.0,437.5 L133.0,440.0" stroke-width="1.26"/>
<path d="M140.6,444.5 L153.4,451.5" stroke-width="1.15"/>
<path d="M140.6,447.0 L153.4,454.0" stroke-width="1.15"/>
<path d="M141.5,442.5 L153.4,449.0" stroke-width="1.15"/>
<path d="M153.4,447.8 L187.5,466.7" stroke-width="1.26"/>
<path d="M151.9,455.4 L183.7,475.0" stroke-width="1.26"/>
<path d="M153.4,447.8 C153.1,448.3 151.8,449.7 151.5,451.0 C151.2,452.3 151.8,454.7 151.9,455.4" stroke-width="1.26"/>
<ellipse cx="186.3" cy="471.6" rx="2.6" ry="3.8" transform="rotate(-30.0 186.3 471.6)" stroke-width="1.32" fill="none"/>
<path d="M58.5,545.5 L62.1,544.2 L66.3,545.1 L69.4,548.2 L70.3,553.0 L68.2,556.6 L63.9,558.6 L58.5,558.5 L56.0,553.0 Z" stroke-width="1.38" fill="#fff"/>
<path d="M66.3,545.1 L64.6,548.2" stroke-width="1.15"/>
<path d="M70.3,553.0 L66.6,554.2" stroke-width="1.15"/>
<ellipse cx="60.9" cy="552.7" rx="4.7" ry="5.8" transform="rotate(-10.0 60.9 552.7)" stroke-width="1.38" fill="#fff"/>
<ellipse cx="60.8" cy="552.5" rx="2.4" ry="3.1" transform="rotate(-10.0 60.8 552.5)" stroke-width="1.26" fill="none"/>
<ellipse cx="78.3" cy="542.8" rx="6.7" ry="10.2" transform="rotate(-30.0 78.3 542.8)" stroke-width="1.32" fill="#fff"/>
<ellipse cx="77.1" cy="543.3" rx="6.7" ry="10.2" transform="rotate(-30.0 77.1 543.3)" stroke-width="1.32" fill="#fff"/>
<ellipse cx="76.5" cy="543.6" rx="2.5" ry="3.7" transform="rotate(-30.0 76.5 543.6)" stroke-width="1.95" fill="none"/>
<path d="M97.0,544.6 L104.1,541.1 L93.9,520.3 L86.8,523.8 Z" fill="#fff" stroke="none"/>
<path d="M97.0,544.6 L104.1,541.1" stroke-width="1.21"/>
<path d="M86.8,523.8 L93.9,520.3" stroke-width="1.21"/>
<ellipse cx="99.0" cy="530.7" rx="8.2" ry="11.8" transform="rotate(-12.0 99.0 530.7)" stroke-width="1.26" fill="#fff"/>
<ellipse cx="96.0" cy="532.2" rx="8.2" ry="11.8" transform="rotate(-12.0 96.0 532.2)" stroke-width="1.21" fill="#fff"/>
<ellipse cx="94.0" cy="533.2" rx="8.2" ry="11.8" transform="rotate(-12.0 94.0 533.2)" stroke-width="1.21" fill="#fff"/>
<ellipse cx="91.9" cy="534.2" rx="8.2" ry="11.8" transform="rotate(-12.0 91.9 534.2)" stroke-width="1.38" fill="#fff"/>
<ellipse cx="92.2" cy="534.8" rx="4.3" ry="5.9" transform="rotate(-12.0 92.2 534.8)" stroke-width="1.26" fill="none"/>
<ellipse cx="122.8" cy="517.3" rx="8.2" ry="9.6" transform="rotate(-20.0 122.8 517.3)" stroke-width="1.26" fill="#fff"/>
<ellipse cx="121.6" cy="517.9" rx="8.2" ry="9.6" transform="rotate(-20.0 121.6 517.9)" stroke-width="1.21" fill="#fff"/>
<ellipse cx="119.8" cy="518.8" rx="4.2" ry="5.9" transform="rotate(-15.0 119.8 518.8)" stroke-width="1.21" fill="none"/>
<path d="M115.1,527.7 L122.4,524.0 L117.1,513.6 L109.9,517.3 Z" fill="#fff" stroke="none"/>
<path d="M115.1,527.7 L122.4,524.0" stroke-width="1.21"/>
<path d="M109.9,517.3 L117.1,513.6" stroke-width="1.21"/>
<ellipse cx="112.5" cy="522.5" rx="4.2" ry="5.9" transform="rotate(-15.0 112.5 522.5)" stroke-width="1.38" fill="#fff"/>
<ellipse cx="112.7" cy="522.7" rx="3.0" ry="4.4" transform="rotate(-15.0 112.7 522.7)" stroke-width="1.26" fill="none"/>
<path d="M132.8,596.6 L136.4,595.3 L140.6,596.2 L143.8,599.3 L144.6,604.1 L142.6,607.7 L138.2,609.7 L132.8,609.6 L130.3,604.1 Z" stroke-width="1.38" fill="#fff"/>
<path d="M140.6,596.2 L138.9,599.3" stroke-width="1.15"/>
<path d="M144.6,604.1 L140.9,605.3" stroke-width="1.15"/>
<ellipse cx="135.2" cy="603.8" rx="4.7" ry="5.8" transform="rotate(-10.0 135.2 603.8)" stroke-width="1.38" fill="#fff"/>
<ellipse cx="135.1" cy="603.6" rx="2.4" ry="3.1" transform="rotate(-10.0 135.1 603.6)" stroke-width="1.26" fill="none"/>
<ellipse cx="152.0" cy="594.0" rx="6.8" ry="10.3" transform="rotate(-30.0 152.0 594.0)" stroke-width="1.32" fill="#fff"/>
<ellipse cx="150.8" cy="594.5" rx="6.8" ry="10.3" transform="rotate(-30.0 150.8 594.5)" stroke-width="1.32" fill="#fff"/>
<ellipse cx="150.2" cy="594.8" rx="2.6" ry="3.7" transform="rotate(-30.0 150.2 594.8)" stroke-width="1.95" fill="none"/>
<path d="M172.0,595.6 L179.3,591.8 L169.3,572.8 L162.0,576.6 Z" fill="#fff" stroke="none"/>
<path d="M172.0,595.6 L179.3,591.8" stroke-width="1.21"/>
<path d="M162.0,576.6 L169.3,572.8" stroke-width="1.21"/>
<ellipse cx="174.3" cy="582.3" rx="8.3" ry="10.9" transform="rotate(-12.0 174.3 582.3)" stroke-width="1.26" fill="#fff"/>
<ellipse cx="171.2" cy="583.9" rx="8.3" ry="10.9" transform="rotate(-12.0 171.2 583.9)" stroke-width="1.21" fill="#fff"/>
<ellipse cx="169.2" cy="585.0" rx="8.3" ry="10.9" transform="rotate(-12.0 169.2 585.0)" stroke-width="1.21" fill="#fff"/>
<ellipse cx="167.0" cy="586.1" rx="8.3" ry="10.9" transform="rotate(-12.0 167.0 586.1)" stroke-width="1.38" fill="#fff"/>
<ellipse cx="167.3" cy="586.7" rx="4.3" ry="5.5" transform="rotate(-12.0 167.3 586.7)" stroke-width="1.26" fill="none"/>
<ellipse cx="197.5" cy="568.2" rx="8.2" ry="9.6" transform="rotate(-20.0 197.5 568.2)" stroke-width="1.26" fill="#fff"/>
<ellipse cx="196.3" cy="568.8" rx="8.2" ry="9.6" transform="rotate(-20.0 196.3 568.8)" stroke-width="1.21" fill="#fff"/>
<ellipse cx="194.5" cy="569.8" rx="4.2" ry="6.1" transform="rotate(-15.0 194.5 569.8)" stroke-width="1.21" fill="none"/>
<path d="M190.0,578.9 L197.3,575.1 L191.7,564.4 L184.4,568.3 Z" fill="#fff" stroke="none"/>
<path d="M190.0,578.9 L197.3,575.1" stroke-width="1.21"/>
<path d="M184.4,568.3 L191.7,564.4" stroke-width="1.21"/>
<ellipse cx="187.2" cy="573.6" rx="4.2" ry="6.1" transform="rotate(-15.0 187.2 573.6)" stroke-width="1.38" fill="#fff"/>
<ellipse cx="187.4" cy="573.8" rx="3.0" ry="4.6" transform="rotate(-15.0 187.4 573.8)" stroke-width="1.26" fill="none"/>
<path d="M168.7,560.5 L177.7,555.9 L171.5,543.7 L162.5,548.3 Z" fill="#fff" stroke="none"/>
<path d="M168.7,560.5 L177.7,555.9" stroke-width="1.21"/>
<path d="M162.5,548.3 L171.5,543.7" stroke-width="1.21"/>
<ellipse cx="174.6" cy="549.8" rx="5.0" ry="6.9" transform="rotate(-20.0 174.6 549.8)" stroke-width="1.26" fill="#fff"/>
<path d="M168.7,560.5 L177.7,555.9 L171.5,543.7 L162.5,548.3 Z" fill="#fff" stroke="none"/>
<path d="M168.7,560.5 L177.7,555.9" stroke-width="1.21"/>
<path d="M162.5,548.3 L171.5,543.7" stroke-width="1.21"/>
<ellipse cx="165.6" cy="554.4" rx="5.0" ry="6.9" transform="rotate(-20.0 165.6 554.4)" stroke-width="1.38" fill="#fff"/>
<ellipse cx="165.9" cy="554.6" rx="2.8" ry="3.8" transform="rotate(-20.0 165.9 554.6)" stroke-width="1.26" fill="none"/>
<ellipse cx="166.0" cy="554.7" rx="1.5" ry="2.2" transform="rotate(-20.0 166.0 554.7)" stroke-width="1.15" fill="none"/>
<path d="M87.7,785.0 L106.2,773.7 L109.6,775.6 L110.0,793.0 L86.6,804.3 L86.9,811.1 L70.3,801.3 L83.5,780.1 L87.3,783.8 Z" stroke-width="1.3" fill="#fff"/>
<path d="M86.6,788.4 L109.0,776.5" stroke-width="1.26"/>
<path d="M74.1,802.0 L85.4,784.6" stroke-width="1.15"/>

</g>
<g font-size="12" stroke="#000" stroke-width="0.25">
<g transform="translate(240,275) scale(1.15,1)"><text>1</text></g>
<g transform="translate(538,222) scale(1.15,1)"><text>5</text></g>
<g transform="translate(476,450) scale(1.15,1)"><text>3</text></g>
<g transform="translate(598,418) scale(1.15,1)"><text>4</text></g>
<g transform="translate(395,495) scale(1.15,1)"><text>2</text></g>
<g transform="translate(46,520) scale(1.15,1)"><text>9</text></g>
<g transform="translate(65,509) scale(1.15,1)"><text>8</text></g>
<g transform="translate(86,499) scale(1.15,1)"><text>7</text></g>
<g transform="translate(117,481) scale(1.15,1)"><text>6</text></g>
<g transform="translate(146,532) scale(1.15,1)"><text>10</text></g>
<g transform="translate(214,606) scale(1.15,1)"><text>6</text></g>
<g transform="translate(185,622) scale(1.15,1)"><text>7</text></g>
<g transform="translate(160,635) scale(1.15,1)"><text>8</text></g>
<g transform="translate(143,644) scale(1.15,1)"><text>9</text></g>
</g>
<g font-size="12" stroke="#000" stroke-width="0.2">
<text x="49" y="829" textLength="92" lengthAdjust="spacingAndGlyphs">5YT1100-C380</text>
</g>
<g transform="translate(87.2,804.2) skewY(-27) scale(0.54,1)"><text font-size="17.5" font-weight="bold" stroke="#000" stroke-width="0.7">FWD</text></g>
</svg>
</body></html>
